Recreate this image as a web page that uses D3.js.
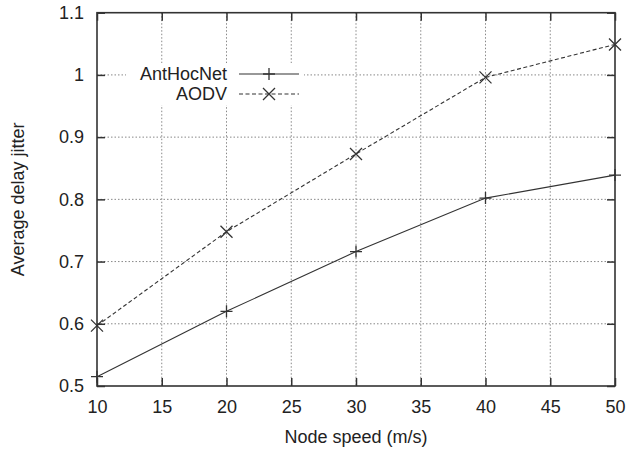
<!DOCTYPE html>
<html><head><meta charset="utf-8">
<script src="https://cdn.jsdelivr.net/npm/d3@7"></script>
<style>body{margin:0;background:#fff}svg{display:block}text{font-family:"Liberation Sans",Arial,sans-serif;fill:#222}</style>
</head><body><svg id="c" width="629" height="450"></svg>
<script>
const speeds = [10, 20, 30, 40, 50];
const antHocNet = [0.515, 0.620, 0.716, 0.802, 0.839];
const aodv = [0.597, 0.748, 0.873, 0.996, 1.049];
const xTicks = [10, 15, 20, 25, 30, 35, 40, 45, 50];
const yTicks = [0.5, 0.6, 0.7, 0.8, 0.9, 1.0, 1.1];
const seriesNames = ["AntHocNet", "AODV"];

const svg = d3.select("#c");
const L = 97, R = 615, T = 12.7, B = 386;
const x = d3.scaleLinear().domain([10, 50]).range([L, R]);
const y = d3.scaleLinear().domain([0.5, 1.1]).range([B, T]);
const ink = "#333";

// grid
const grid = svg.append("g");
grid.selectAll("line.gx").data(xTicks.slice(1, -1)).join("line")
  .attr("x1", d => x(d)).attr("x2", d => x(d)).attr("y1", T).attr("y2", B)
  .attr("stroke", "#888").attr("stroke-width", 1).attr("stroke-dasharray", "1.5,2");
grid.selectAll("line.gy").data(yTicks.slice(1, -1)).join("line")
  .attr("y1", d => y(d)).attr("y2", d => y(d)).attr("x1", L).attr("x2", R)
  .attr("stroke", "#888").attr("stroke-width", 1).attr("stroke-dasharray", "1.5,2");

// axes (ticks inside, mirrored)
const fmt = d => d3.format("")(+d.toFixed(1));
const ax = (g, gen) => {
  g.call(gen);
  g.select(".domain").remove();
  g.selectAll(".tick line").attr("stroke", ink).attr("stroke-width", 1.5);
  g.selectAll("text").attr("font-size", 18).attr("fill", "#222")
   .style("font-family", '"Liberation Sans",Arial,sans-serif');
};
svg.append("g").attr("transform", `translate(0,${B})`)
  .call(g => ax(g, d3.axisBottom(x).tickValues(xTicks).tickSize(-8).tickPadding(14).tickFormat(d => d)));
svg.append("g").attr("transform", `translate(0,${T})`)
  .call(g => ax(g, d3.axisTop(x).tickValues(xTicks).tickSize(-8).tickFormat("")));
svg.append("g").attr("transform", `translate(${L},0)`)
  .call(g => ax(g, d3.axisLeft(y).tickValues(yTicks).tickSize(-8).tickPadding(13).tickFormat(fmt)));
svg.append("g").attr("transform", `translate(${R},0)`)
  .call(g => ax(g, d3.axisRight(y).tickValues(yTicks).tickSize(-8).tickFormat("")));

svg.append("rect").attr("x", L).attr("y", T).attr("width", R - L).attr("height", B - T)
  .attr("fill", "none").attr("stroke", ink).attr("stroke-width", 1.6);

// legend background
const lg = svg.append("g");
lg.append("rect").attr("x", 126).attr("y", 63).attr("width", 178).attr("height", 42).attr("fill", "#fff");

// series
const line = d3.line().x((d, i) => x(speeds[i])).y(d => y(d));
svg.append("path").datum(antHocNet).attr("d", line).attr("fill", "none")
  .attr("stroke", ink).attr("stroke-width", 1.1);
svg.append("path").datum(aodv).attr("d", line).attr("fill", "none")
  .attr("stroke", ink).attr("stroke-width", 1.1).attr("stroke-dasharray", "4,2.5");

const plus = (g, cx, cy, s) => g.append("path")
  .attr("d", `M${cx - s},${cy}H${cx + s}M${cx},${cy - s}V${cy + s}`)
  .attr("stroke", ink).attr("stroke-width", 1.3).attr("fill", "none");
const cross = (g, cx, cy, s) => g.append("path")
  .attr("d", `M${cx - s},${cy - s}L${cx + s},${cy + s}M${cx - s},${cy + s}L${cx + s},${cy - s}`)
  .attr("stroke", ink).attr("stroke-width", 1.3).attr("fill", "none");

antHocNet.forEach((v, i) => plus(svg, x(speeds[i]), y(v), 6));
aodv.forEach((v, i) => cross(svg, x(speeds[i]), y(v), 6));

// legend content
const legY = [74, 94];
seriesNames.forEach((n, i) => {
  lg.append("text").attr("x", 227).attr("y", legY[i]).attr("dy", "0.35em")
    .attr("text-anchor", "end").attr("font-size", 18).text(n);
  lg.append("line").attr("x1", 239).attr("x2", 299).attr("y1", legY[i]).attr("y2", legY[i])
    .attr("stroke", ink).attr("stroke-width", 1.1)
    .attr("stroke-dasharray", i === 1 ? "4,2.5" : null);
});
plus(lg, 269, legY[0], 6);
cross(lg, 269, legY[1], 6);

// axis titles
svg.append("text").attr("x", (L + R) / 2).attr("y", 443).attr("text-anchor", "middle")
  .attr("font-size", 18).text("Node speed (m/s)");
svg.append("text").attr("transform", `translate(24,${(T + B) / 2}) rotate(-90)`)
  .attr("text-anchor", "middle").attr("font-size", 18).text("Average delay jitter");
</script></body></html>
